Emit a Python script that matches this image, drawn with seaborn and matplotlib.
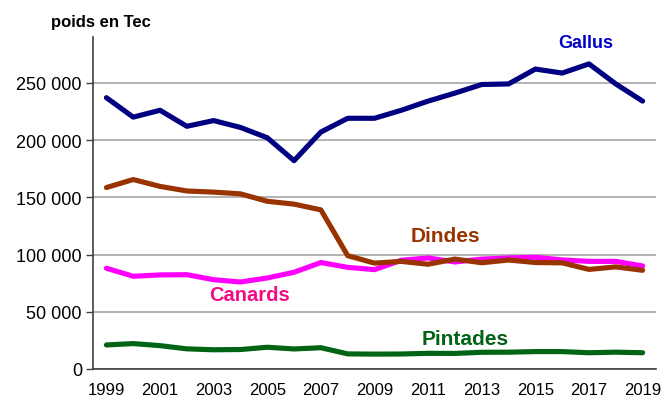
import matplotlib
matplotlib.use("Agg")
import matplotlib.pyplot as plt
import seaborn as sns
import pandas as pd
from matplotlib.ticker import FuncFormatter

years = list(range(1999, 2020))
gallus = [237000, 220000, 226000, 212000, 217000, 211000, 202000, 182000, 207000, 219000,
          219000, 226000, 234000, 241000, 248500, 249000, 262000, 258500, 266500, 249000, 234000]
dindes = [158500, 165500, 159500, 155500, 154500, 153000, 146500, 144000, 139000, 99000,
          92500, 94000, 91500, 96000, 92800, 95200, 93000, 92700, 87000, 89200, 86200]
canards = [88000, 81000, 82200, 82400, 78000, 76000, 79500, 84500, 93000, 88800,
           86800, 95000, 97000, 93500, 96000, 97000, 97600, 95300, 94000, 94000, 90000]
pintades = [21000, 22200, 20400, 17600, 16800, 17000, 19000, 17500, 18600, 13200,
            13000, 13100, 13700, 13600, 14600, 14700, 15200, 15200, 14200, 14700, 14200]
series_names = ["Gallus", "Canards", "Dindes", "Pintades"]
yticks = [0, 50000, 100000, 150000, 200000, 250000]
xticks = list(range(1999, 2020, 2))

df = pd.DataFrame({
    "annee": years * 4,
    "poids": gallus + canards + dindes + pintades,
    "espece": sum([[n] * len(years) for n in series_names], []),
})

sns.set_style("white")
plt.rcParams["font.family"] = ["Liberation Sans", "DejaVu Sans"]

line_colors = {"Gallus": "#000080", "Dindes": "#993300", "Canards": "#FF00FF", "Pintades": "#006414"}
label_colors = {"Gallus": "#0000CC", "Dindes": "#993300", "Canards": "#F50A85", "Pintades": "#006414"}

fig = plt.figure(figsize=(6.65, 4.02), dpi=100)
ax = fig.add_axes([93 / 665, 32 / 402, (656 - 93) / 665, (370 - 38) / 402])

sns.lineplot(data=df, x="annee", y="poids", hue="espece", hue_order=series_names,
             palette=line_colors, linewidth=3.7, legend=False, ax=ax, zorder=3)

ax.set_xlim(1998.5, 2019.5)
ax.set_ylim(0, 290000)
ax.set_xticks(xticks)
ax.set_yticks(yticks)
ax.yaxis.set_major_formatter(FuncFormatter(lambda v, p: f"{int(v):,}".replace(",", " ")))
ax.grid(axis="y", color="#A6A6A6", linewidth=1.2, zorder=0)
ax.grid(axis="x", visible=False)
ax.set_xlabel("")
ax.set_ylabel("")
for s in ["top", "right"]:
    ax.spines[s].set_visible(False)
for s in ["left", "bottom"]:
    ax.spines[s].set_color("#404040")
    ax.spines[s].set_linewidth(1.2)
ax.tick_params(axis="y", which="both", left=True, length=5, width=1.0, color="#404040",
               labelsize=13, pad=3, labelcolor="black")
ax.tick_params(axis="x", bottom=False, labelsize=12, pad=6, labelcolor="black")

labels_pos = {"Gallus": (2016.88, 285000), "Dindes": (2011.63, 116500),
              "Canards": (2004.33, 65500), "Pintades": (2012.37, 26500)}
label_sizes = {"Gallus": 13, "Dindes": 15, "Canards": 14.5, "Pintades": 15}
for name, (lx, ly) in labels_pos.items():
    ax.text(lx, ly, name, color=label_colors[name], fontsize=label_sizes[name], fontweight="bold",
            ha="center", va="center", zorder=5)

fig.text(101 / 665, 1 - 22 / 402, "poids en Tec", fontsize=12, fontweight="bold",
         ha="center", va="center", color="black")

fig.savefig("out.png", dpi=100)
